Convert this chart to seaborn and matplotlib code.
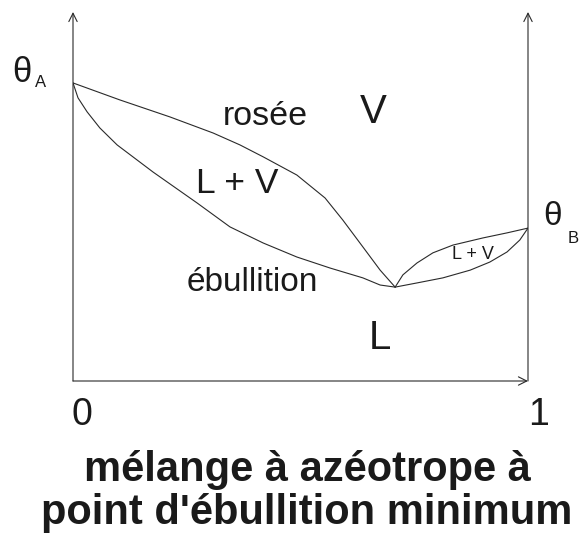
import numpy as np
import pandas as pd
import matplotlib
matplotlib.use('Agg')
import matplotlib.pyplot as plt
import seaborn as sns

## ============================================================
## curve data (composition x, temperature in arbitrary units, theta_A = 100)

dew_left_x = [0.0, 0.103, 0.213, 0.308, 0.367, 0.418, 0.492, 0.554, 0.593, 0.637, 0.675, 0.708]
dew_left_t = [100.0, 94.3, 88.6, 83.2, 79.2, 75.2, 69.1, 61.4, 54.0, 45.0, 37.2, 31.5]

boil_left_x = [0.0, 0.011, 0.031, 0.059, 0.097, 0.176, 0.273, 0.345, 0.418, 0.492,
		0.565, 0.637, 0.675, 0.708]
boil_left_t = [100.0, 95.0, 90.3, 84.9, 79.2, 70.1, 59.7, 51.7, 46.3, 41.6,
		37.9, 34.6, 32.2, 31.5]

dew_right_x = [0.708, 0.725, 0.756, 0.791, 0.835, 0.901, 0.954, 1.0]
dew_right_t = [31.5, 35.6, 39.6, 43.0, 45.6, 48.0, 49.7, 51.3]

boil_right_x = [0.708, 0.756, 0.813, 0.873, 0.916, 0.954, 0.982, 1.0]
boil_right_t = [31.5, 32.9, 34.6, 37.2, 39.9, 43.3, 47.3, 51.3]

T_MAX = 123.8

## ============================================================

sns.set_theme(style='white')
plt.rcParams['font.family'] = ['Liberation Sans', 'DejaVu Sans']

LINE = '#2a2a2a'
TXT = '#1a1a1a'

fig = plt.figure(figsize=(5.87, 5.35), dpi=100)
ax = fig.add_axes([73/587, 1-381/535, (528-73)/587, (381-12)/535])

curves = [(dew_left_x, dew_left_t), (boil_left_x, boil_left_t),
		(dew_right_x, dew_right_t), (boil_right_x, boil_right_t)]
for cx, ct in curves:
	d = pd.DataFrame({'x': cx, 't': ct})
	sns.lineplot(data=d, x='x', y='t', sort=False, estimator=None,
			color=LINE, linewidth=0.8, ax=ax)
ax.set_xlim(0, 1)
ax.set_ylim(0, T_MAX)
ax.axis('off')

## axes with arrows
arr = dict(arrowstyle='->', color=LINE, lw=0.8, shrinkA=0, shrinkB=0,
		mutation_scale=15)
ax.annotate('', xy=(0, 1), xytext=(0, 0), xycoords='axes fraction', arrowprops=arr)
ax.annotate('', xy=(1, 1), xytext=(1, 0), xycoords='axes fraction', arrowprops=arr)
ax.annotate('', xy=(1, 0), xytext=(0, 0), xycoords='axes fraction', arrowprops=arr)

## labels
ax.text(-0.113, 103.5, 'θ', fontsize=25, color=TXT, ha='center', va='center')
ax.text(-0.071, 100.0, 'A', fontsize=12, color=TXT, ha='center', va='center')
ax.text(1.054, 55.2, 'θ', fontsize=24, color=TXT, ha='center', va='center')
ax.text(1.099, 47.8, 'B', fontsize=12, color=TXT, ha='center', va='center')

ax.text(0.02, -11.4, '0', fontsize=27, color=TXT, ha='center', va='center')
ax.text(1.024, -11.4, '1', fontsize=27, color=TXT, ha='center', va='center')

ax.text(0.422, 88.6, 'rosée', fontsize=24.5, color=TXT, ha='center', va='center')
ax.text(0.659, 90.3, 'V', fontsize=29, color=TXT, ha='center', va='center')
ax.text(0.360, 66.1, 'L + V', fontsize=25.5, color=TXT, ha='center', va='center')
ax.text(0.393, 32.9, 'ébullition', fontsize=24, color=TXT, ha='center', va='center')
ax.text(0.675, 14.4, 'L', fontsize=29, color=TXT, ha='center', va='center')
ax.text(0.879, 42.3, 'L + V', fontsize=13, color=TXT, ha='center', va='center')

fig.text(0.523, 1-470/535, 'mélange à azéotrope à', fontsize=30, fontweight='bold',
		color=TXT, ha='center', va='center')
fig.text(0.523, 1-513/535, "point d'ébullition minimum", fontsize=30, fontweight='bold',
		color=TXT, ha='center', va='center')

fig.savefig('out.png', dpi=100, facecolor='white')
